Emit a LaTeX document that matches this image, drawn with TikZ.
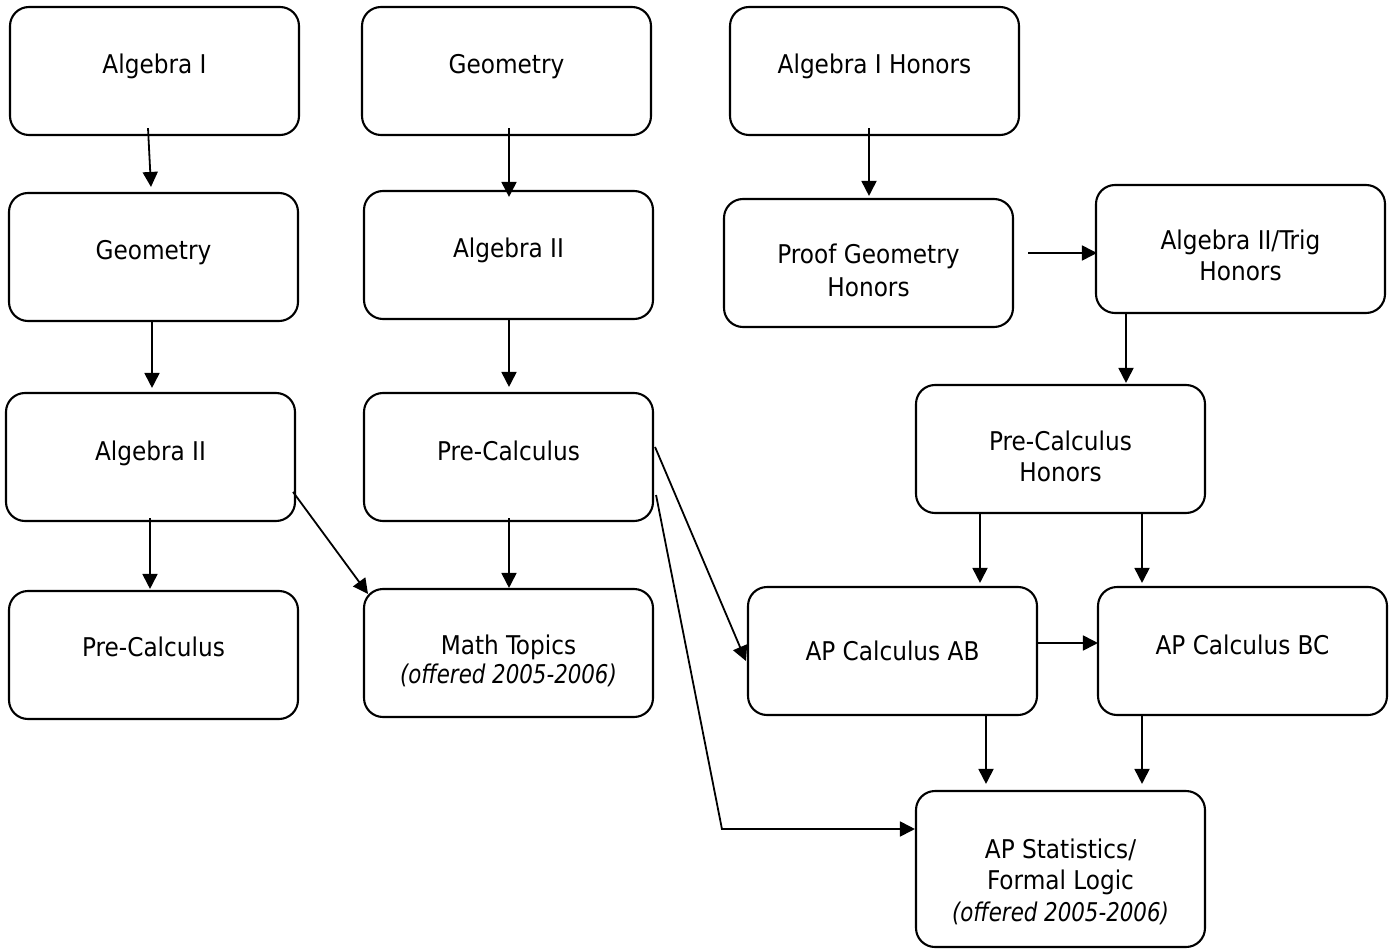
\documentclass[tikz,border=0pt]{standalone}
\usepackage{fontspec}
\setmainfont{DejaVu Sans Condensed}
\usetikzlibrary{calc,arrows.meta}
\newcommand{\offered}[1]{\scalebox{0.92}[1]{\itshape #1}}
\begin{document}
\begin{tikzpicture}[x=1pt,y=-1pt,
  course/.style={draw,line width=2.1pt,rounded corners=19pt,minimum width=289pt,minimum height=128pt,inner sep=0pt},
  txt/.style={anchor=base,inner sep=0pt,font=\fontsize{25.8}{30}\selectfont},
  link/.style={line width=1.8pt,-{Triangle[length=15pt,width=15pt]}}]
\useasboundingbox (0,0) rectangle (1391,949);

% course boxes
\node[course] (alg1)   at (154.5,71)  {};
\node[course] (geoB)   at (506.5,71)  {};
\node[course] (alg1h)  at (874.5,71)  {};
\node[course] (geoA)   at (153.5,257) {};
\node[course] (alg2B)  at (508.5,255) {};
\node[course] (proofg) at (868.5,263) {};
\node[course] (trigh)  at (1240.5,249) {};
\node[course] (alg2A)  at (150.5,457) {};
\node[course] (preB)   at (508.5,457) {};
\node[course] (preh)   at (1060.5,449) {};
\node[course] (preA)   at (153.5,655) {};
\node[course] (topics) at (508.5,653) {};
\node[course] (calcab) at (892.5,651) {};
\node[course] (calcbc) at (1242.5,651) {};
\node[course,minimum height=156pt] (stats) at (1060.5,869) {};

% course titles
\node[txt] (t1)  at (154.5,74)  {Algebra I};
\node[txt] (t2)  at (506.5,74)  {Geometry};
\node[txt] (t3)  at (874.5,74)  {Algebra I Honors};
\node[txt] (t4)  at (153.5,260) {Geometry};
\node[txt] (t5)  at (508.5,258) {Algebra II};
\node[txt] (t6a) at (868.5,264) {Proof Geometry};
\node[txt] (t6b) at (868.5,297) {Honors};
\node[txt] (t7a) at (1240.5,250) {Algebra II/Trig};
\node[txt] (t7b) at (1240.5,281) {Honors};
\node[txt] (t8)  at (150.5,460) {Algebra II};
\node[txt] (t9)  at (508.5,460) {Pre-Calculus};
\node[txt] (t10a) at (1060.5,450) {Pre-Calculus};
\node[txt] (t10b) at (1060.5,481) {Honors};
\node[txt] (t11) at (153.5,656) {Pre-Calculus};
\node[txt] (t12a) at (508.5,654) {Math Topics};
\node[txt] (t12b) at (508.5,683) {\offered{(offered 2005-2006)}};
\node[txt] (t13) at (892.5,660) {AP Calculus AB};
\node[txt] (t14) at (1242.5,654) {AP Calculus BC};
\node[txt] (t15a) at (1060.5,858) {AP Statistics/};
\node[txt] (t15b) at (1060.5,889) {Formal Logic};
\node[txt] (t15c) at (1060.5,921) {\offered{(offered 2005-2006)}};

% prerequisites
\draw[link] ($(alg1.south)+(-6.5,-8)$) -- ($(geoA.north)+(-2.5,-5)$);
\draw[link] ($(geoB.south)+(2.5,-8)$) -- ($(alg2B.north)+(0.5,7)$);
\draw[link] ($(alg1h.south)+(-5.5,-8)$) -- ($(proofg.north)+(0.5,-2)$);
\draw[link] ($(geoA.south)+(-1.5,-2)$) -- ($(alg2A.north)+(1.5,-4)$);
\draw[link] ($(alg2B.south)+(0.5,-2)$) -- ($(preB.north)+(0.5,-5)$);
\draw[link] ($(proofg.east)+(14,-10)$) -- ($(trigh.west)+(2,4)$);
\draw[link] ($(trigh.south)+(-114.5,0)$) -- ($(preh.north)+(65.5,-1)$);
\draw[link] ($(alg2A.south)+(-0.5,-4)$) -- ($(preA.north)+(-3.5,-1)$);
\draw[link] ($(alg2A.east)+(-3,35)$) -- ($(topics.north)+(-140.5,6)$);
\draw[link] ($(preB.south)+(0.5,-4)$) -- ($(topics.north)+(0.5,0)$);
\draw[link] ($(preB.east)+(1,-10)$) -- ($(calcab.west)+(-1,10)$);
\coordinate (bend) at ($(stats.west)+(-193,-40)$);
\draw[link] ($(preB.east)+(2,38)$) -- (bend) -- ($(stats.west)+(0,-40)$);
\draw[link] ($(preh.south)+(-80.5,0)$) -- ($(calcab.north)+(87.5,-3)$);
\draw[link] ($(preh.south)+(81.5,0)$) -- ($(calcbc.north)+(-100.5,-3)$);
\draw[link] ($(calcab.east)+(0,-8)$) -- ($(calcbc.west)+(1,-8)$);
\draw[link] ($(calcab.south)+(93.5,-2)$) -- ($(stats.north)+(-74.5,-6)$);
\draw[link] ($(calcbc.south)+(-100.5,-2)$) -- ($(stats.north)+(81.5,-6)$);
\end{tikzpicture}
\end{document}
